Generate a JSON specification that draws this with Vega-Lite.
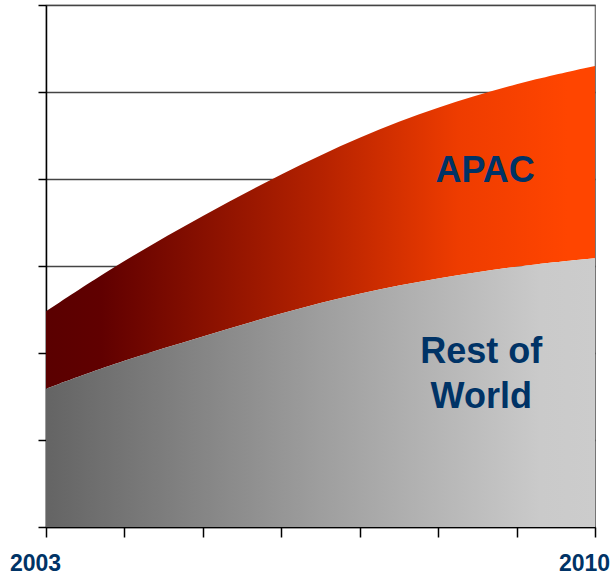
{
  "$schema": "https://vega.github.io/schema/vega-lite/v6.json",
  "width": 549,
  "height": 522,
  "autosize": {"type": "none"},
  "padding": {"left": 46, "top": 5, "right": 18, "bottom": 49},
  "background": "white",
  "config": {
    "view": {"stroke": "#666666", "strokeWidth": 1.2},
    "font": "Liberation Sans"
  },
  "datasets": {
    "series": [
      {"year": 2003, "rest": 1.59, "total": 2.48},
      {"year": 2004, "rest": 1.92, "total": 3.07},
      {"year": 2005, "rest": 2.19, "total": 3.58},
      {"year": 2006, "rest": 2.46, "total": 4.06},
      {"year": 2007, "rest": 2.69, "total": 4.49},
      {"year": 2008, "rest": 2.86, "total": 4.83},
      {"year": 2009, "rest": 3.0, "total": 5.1},
      {"year": 2010, "rest": 3.09, "total": 5.3}
    ],
    "labels": [
      {"label": "APAC", "year": 2008.6, "value": 3.97},
      {"label": "Rest of", "year": 2008.55, "value": 1.885},
      {"label": "World", "year": 2008.55, "value": 1.368}
    ]
  },
  "layer": [
    {
      "data": {"name": "series"},
      "mark": {
        "type": "area",
        "interpolate": "basis",
        "color": {
          "gradient": "linear",
          "x1": 0, "x2": 1, "y1": 0, "y2": 0,
          "stops": [
            {"offset": 0, "color": "#5a0000"},
            {"offset": 0.1, "color": "#600000"},
            {"offset": 0.5, "color": "#b52200"},
            {"offset": 0.75, "color": "#ee3c00"},
            {"offset": 0.95, "color": "#ff4500"},
            {"offset": 1, "color": "#ff4500"}
          ]
        }
      },
      "encoding": {
        "x": {
          "field": "year",
          "type": "quantitative",
          "scale": {"domain": [2003, 2010], "nice": false, "zero": false},
          "axis": {
            "values": [2003, 2004, 2005, 2006, 2007, 2008, 2009, 2010],
            "format": "d",
            "labelExpr": "datum.value == 2003 || datum.value == 2010 ? datum.label : ''",
            "grid": false,
            "title": null,
            "tickSize": 10,
            "tickWidth": 1.5,
            "tickColor": "black",
            "domainColor": "black",
            "domainWidth": 1.5,
            "labelFontSize": 23,
            "labelFontWeight": "bold",
            "labelColor": "#003366",
            "labelPadding": 15,
            "labelOffset": -11,
            "labelFlush": false,
            "labelOverlap": false
          }
        },
        "y": {
          "field": "total",
          "type": "quantitative",
          "scale": {"domain": [0, 6], "nice": false},
          "axis": {
            "values": [0, 1, 2, 3, 4, 5, 6],
            "labels": false,
            "title": null,
            "grid": true,
            "gridColor": "#444444",
            "gridWidth": 1.3,
            "gridOpacity": 1,
            "tickSize": 8,
            "tickWidth": 1.5,
            "tickColor": "black",
            "domainColor": "black",
            "domainWidth": 1.5
          }
        },
        "y2": {"field": "rest"}
      }
    },
    {
      "data": {"name": "series"},
      "mark": {
        "type": "area",
        "interpolate": "basis",
        "color": {
          "gradient": "linear",
          "x1": 0, "x2": 1, "y1": 0, "y2": 0,
          "stops": [
            {"offset": 0, "color": "#646464"},
            {"offset": 0.5, "color": "#9e9e9e"},
            {"offset": 0.9, "color": "#cacaca"},
            {"offset": 1, "color": "#cccccc"}
          ]
        }
      },
      "encoding": {
        "x": {"field": "year", "type": "quantitative"},
        "y": {"field": "rest", "type": "quantitative"}
      }
    },
    {
      "data": {"name": "labels"},
      "mark": {
        "type": "text",
        "fontSize": 36,
        "fontWeight": "bold",
        "color": "#003366",
        "align": "center",
        "baseline": "alphabetic"
      },
      "encoding": {
        "x": {"field": "year", "type": "quantitative"},
        "y": {"field": "value", "type": "quantitative"},
        "text": {"field": "label"}
      }
    }
  ]
}
